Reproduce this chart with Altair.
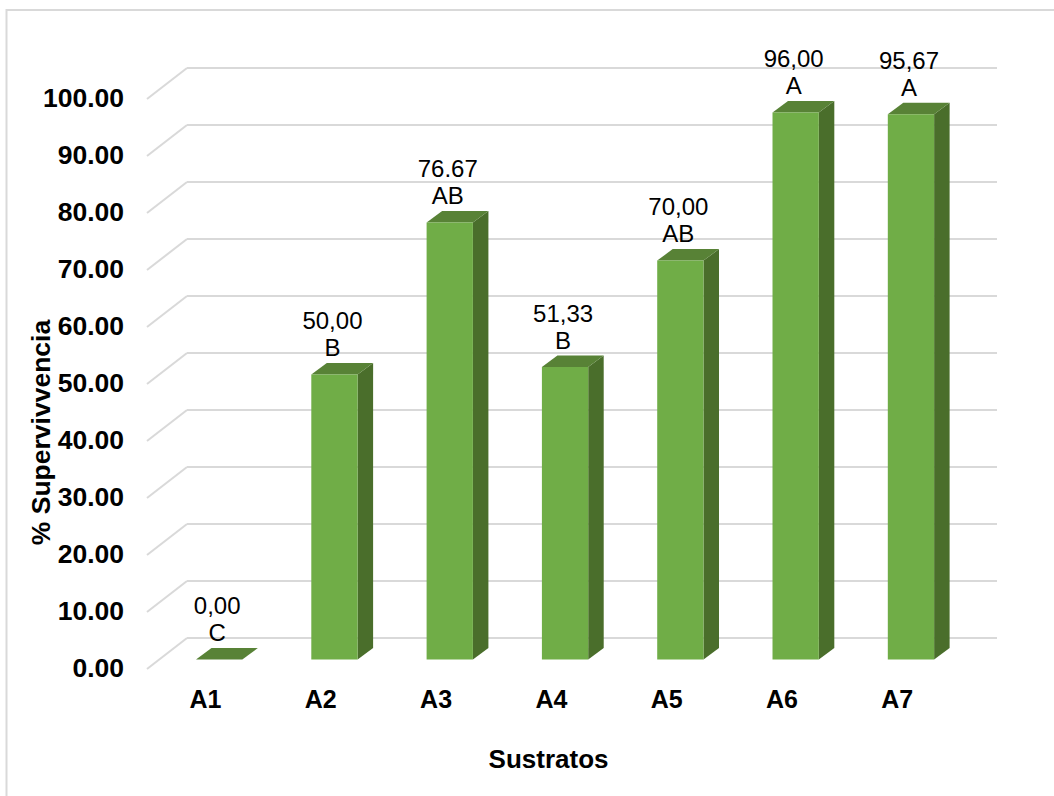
import altair as alt
import pandas as pd

# Survival per substrate, with the printed value text and the grouping letter
categories = ["A1", "A2", "A3", "A4", "A5", "A6", "A7"]
values = [0.00, 50.00, 76.67, 51.33, 70.00, 96.00, 95.67]
value_text = ["0,00", "50,00", "76.67", "51,33", "70,00", "96,00", "95,67"]
letters = ["C", "B", "AB", "B", "AB", "A", "A"]
y_ticks = list(range(0, 101, 10))

# Pseudo-3D geometry, in data units
WALL_DX, WALL_DY = 0.347, 5.44
BAR_LEFT, BAR_W = -0.078, 0.4016
BAR_DX, BAR_DY, BAR_BASE = 0.1344, 2.02, 1.65
X_MIN, X_MAX = -0.503, 6.869
Y_MAX = 105.44

GRID = "#D9D9D9"
FRONT, TOP, SIDE = "#70AD47", "#588236", "#4A6E2B"
FONT = "Liberation Sans"

x_scale = alt.Scale(domain=[X_MIN, X_MAX], nice=False, zero=False)
y_scale = alt.Scale(domain=[0, Y_MAX], nice=False, zero=False)

# Back-wall lines and the diagonal floor/wall joins
grid_rows, join_rows = [], []
for t in y_ticks:
    grid_rows += [{"t": t, "x": X_MIN + WALL_DX, "y": t + WALL_DY},
                  {"t": t, "x": X_MAX, "y": t + WALL_DY}]
    join_rows += [{"t": t, "x": X_MIN, "y": t},
                  {"t": t, "x": X_MIN + WALL_DX, "y": t + WALL_DY}]

front_rows, side_rows, top_rows, label_rows = [], [], [], []
for i, (c, v, vt, le) in enumerate(zip(categories, values, value_text, letters)):
    left = i + BAR_LEFT
    right = left + BAR_W
    top = v + BAR_BASE
    front_rows.append({"c": c, "x": left, "x2": right, "y": BAR_BASE, "y2": top})
    side_rows += [
        {"c": c, "x": right, "y": top, "y2": BAR_BASE},
        {"c": c, "x": right + BAR_DX, "y": top + BAR_DY, "y2": BAR_BASE + BAR_DY},
    ]
    top_rows += [
        {"c": c, "y": top, "x": left, "x2": right},
        {"c": c, "y": top + BAR_DY, "x": left + BAR_DX, "x2": right + BAR_DX},
    ]
    label_rows.append({"x": left + BAR_W / 2, "y": top + BAR_DY,
                       "value": vt, "letter": le})

x_axis = alt.Axis(
    values=list(range(len(categories))),
    labelExpr="'A' + (datum.value + 1)",
    title="Sustratos",
    titleFont=FONT, titleFontSize=26, titleFontWeight="bold", titleColor="black",
    titleX=401, titleY=90, titleBaseline="middle", titleAlign="center",
    labelFont=FONT, labelFontSize=25, labelFontWeight="bold", labelColor="black",
    labelPadding=18, labelFlush=False, labelOverlap=False,
    domain=False, ticks=False, grid=False,
)
y_axis = alt.Axis(
    values=y_ticks, format=".2f",
    title="% Supervivvencia",
    titleFont=FONT, titleFontSize=26.5, titleFontWeight="bold", titleColor="black",
    titleX=-106, titleY=364, titleBaseline="middle", titleAlign="center", titleAngle=270,
    labelFont=FONT, labelFontSize=26.5, labelFontWeight="bold", labelColor="black",
    labelPadding=23.5, labelOffset=-0.5, labelFlush=False, labelOverlap=False,
    domain=False, ticks=False, grid=False,
)

# Every layer shares one position definition, so one set of axes is drawn
pos_x = alt.X("x:Q", scale=x_scale, axis=x_axis)
pos_y = alt.Y("y:Q", scale=y_scale, axis=y_axis)

# Chart border: its right and bottom sides run past the page edge
frame = alt.Chart(pd.DataFrame({"k": [0]})).mark_rect(
    fill="transparent", stroke=GRID, strokeWidth=2, clip=False
).encode(x=alt.value(-140.5), x2=alt.value(925), y=alt.value(-58), y2=alt.value(750))

grid = alt.Chart(pd.DataFrame(grid_rows)).mark_line(color=GRID, strokeWidth=2).encode(
    x=pos_x, y=pos_y, detail="t:N")
joins = alt.Chart(pd.DataFrame(join_rows)).mark_line(color=GRID, strokeWidth=2).encode(
    x=pos_x, y=pos_y, detail="t:N")

fronts = alt.Chart(pd.DataFrame(front_rows)).mark_rect(color=FRONT).encode(
    x=pos_x, x2="x2:Q", y=pos_y, y2="y2:Q")
sides = alt.Chart(pd.DataFrame(side_rows)).mark_area(color=SIDE, orient="vertical").encode(
    x=pos_x, y=pos_y, y2="y2:Q", detail="c:N")
tops = alt.Chart(pd.DataFrame(top_rows)).mark_area(color=TOP, orient="horizontal").encode(
    y=pos_y, x=pos_x, x2="x2:Q", detail="c:N")

labels = alt.Chart(pd.DataFrame(label_rows))
value_labels = labels.mark_text(font=FONT, fontSize=24, color="black", dx=-2, dy=-41, baseline="middle").encode(
    x=pos_x, y=pos_y, text="value:N")
letter_labels = labels.mark_text(font=FONT, fontSize=24, color="black", dx=-2, dy=-14, baseline="middle").encode(
    x=pos_x, y=pos_y, text="letter:N")

chart = alt.layer(
    frame, grid, joins, sides, tops, fronts, value_labels, letter_labels
).properties(
    width=850, height=601,
    padding={"left": 147, "top": 68, "right": 57, "bottom": 127},
    autosize=alt.AutoSizeParams(type="none"),
    background="white",
).configure_view(stroke=None)

chart.save("out.html", embed_options={"renderer": "svg", "actions": False})
